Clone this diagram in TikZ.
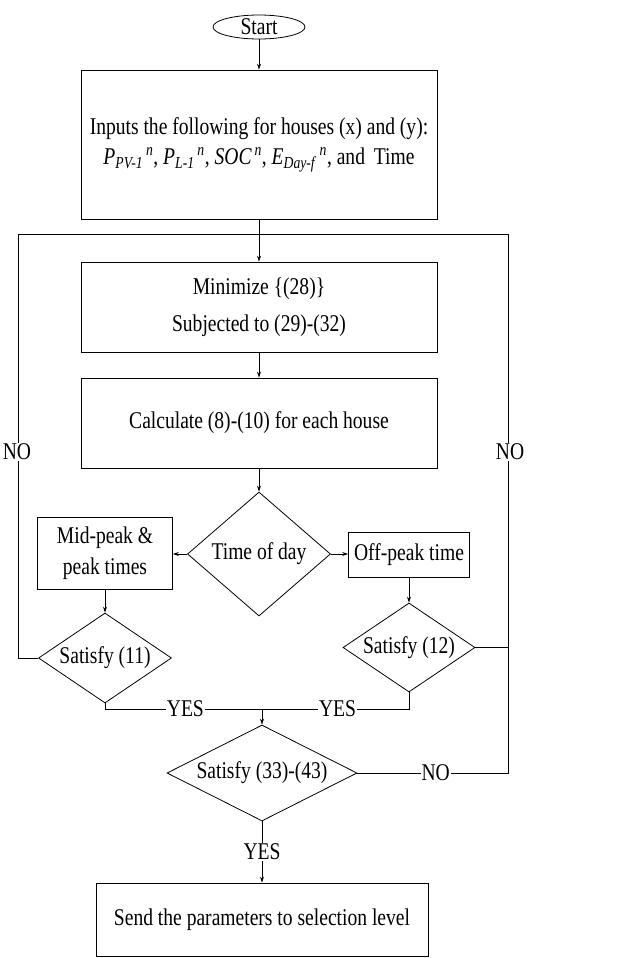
\documentclass[tikz,border=0pt]{standalone}
\usepackage{fontspec}
\setmainfont{Liberation Serif}[FakeStretch=0.815]
\usetikzlibrary{shapes.geometric,arrows.meta}
\newcommand\myvar[3]{\textit{#1}\textsubscript{\textit{#2}}\textsuperscript{\,\textit{#3}}}
\tikzset{
  base/.style={draw, line width=0.8pt, inner sep=0pt, font=\fontsize{24}{28}\selectfont, align=center},
  box/.style={base, rectangle},
  dia/.style={base, diamond},
  term/.style={base, ellipse},
  line/.style={line width=0.8pt},
  arr/.style={line width=0.8pt, -{Stealth[length=6pt,width=4pt]}},
  lbl/.style={fill=white, inner sep=1pt, font=\fontsize{24}{28}\selectfont}
}
\begin{document}
\begin{tikzpicture}[x=1pt, y=-1pt]
\useasboundingbox (0,0) rectangle (621,958);
\node[term, minimum width=92pt, minimum height=24pt] (start) at (259,27) {Start};
\node[box, minimum width=356pt, minimum height=149pt] (inputs) at (259,144.5)
  {Inputs the following for houses (x) and (y):\\[2pt]
   \myvar{P}{PV-1}{n}, \myvar{P}{L-1}{n}, \textit{SOC}\textsuperscript{\,\textit{n}}, \myvar{E}{Day-f}{n}, and\, Time};
\node[box, minimum width=356pt, minimum height=90pt] (minim) at (259,307)
  {Minimize \{(28)\}\\[9pt] Subjected to (29)-(32)};
\node[box, minimum width=356pt, minimum height=90pt] (calc) at (259,423)
  {Calculate (8)-(10) for each house};
\node[dia, aspect=1.15, minimum width=143pt, minimum height=124pt] (tod) at (259,554) {Time of day};
\node[box, minimum width=135pt, minimum height=72pt] (mid) at (105,553.5) {Mid-peak \&\\[3pt] peak times};
\node[box, minimum width=121pt, minimum height=45pt] (off) at (409,554.5) {Off-peak time};
\node[dia, aspect=1.48, minimum width=133pt, minimum height=90pt] (s11) at (105,658) {Satisfy (11)};
\node[dia, aspect=1.48, minimum width=132pt, minimum height=89pt] (s12) at (409,647.5) {Satisfy (12)};
\node[dia, aspect=1.98, minimum width=190pt, minimum height=96pt] (s33) at (262,773) {Satisfy (33)-(43)};
\node[box, minimum width=332pt, minimum height=73pt] (send) at (262,919.5) {Send the parameters to selection level};

\coordinate (j1) at (259,234);
\coordinate (tl) at (18,234);
\coordinate (tr) at (508,234);
\coordinate (jy) at (262,709);

\draw[arr] (start) -- (inputs);
\draw[line] (inputs.south) -- (j1);
\draw[arr] (j1) -- (minim.north);
\draw[arr] (minim) -- (calc);
\draw[arr] (calc) -- (tod);
\draw[arr] (tod.west) -- (tod.west -| mid.east);
\draw[arr] (tod.east) -- (tod.east -| off.west);
\draw[arr] (mid) -- (s11);
\draw[arr] (off) -- (s12);
\draw[line] (s11.west) -| (tl) -- (tr);
\draw[line] (s33.east) -- node[lbl, pos=0.52] {NO} (s33.east -| tr) -- (tr);
\draw[line] (s12.east) -- (s12.east -| tr);
\node[lbl] (no1) at (17,452) {NO};
\node[lbl] (no2) at (510,452) {NO};
\draw[line] (s11.south) |- node[lbl, pos=0.756] {YES} (jy);
\draw[line] (s12.south) |- node[lbl, pos=0.743] {YES} (jy);
\draw[arr] (jy) -- (s33.north);
\draw[arr] (s33.south) -- node[lbl] {YES} (send.north);
\end{tikzpicture}
\end{document}
